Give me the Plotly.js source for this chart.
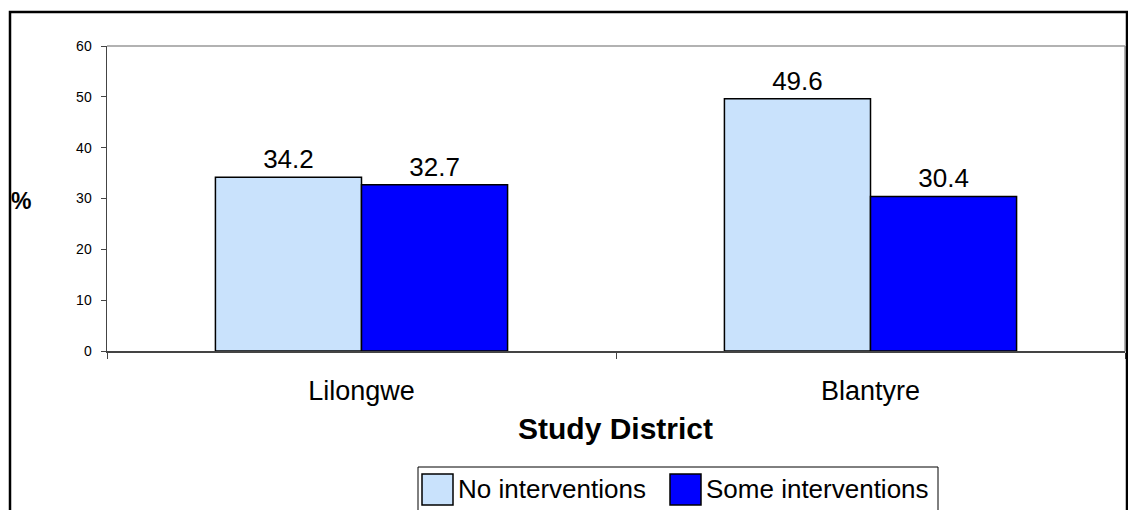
<!DOCTYPE html>
<html>
<head>
<meta charset="utf-8">
<script src="https://cdn.plot.ly/plotly-3.0.1.min.js"></script>
<style>
html,body{margin:0;padding:0;background:#fff;}
#chart{width:1128px;height:510px;}
</style>
</head>
<body>
<div id="chart"></div>
<script>
var districts = ["Lilongwe", "Blantyre"];
var noInterventions = [34.2, 49.6];
var someInterventions = [32.7, 30.4];
var seriesNames = ["No interventions", "Some interventions"];
var seriesColors = ["#C9E2FC", "#0000FF"];
var yTicks = [0, 10, 20, 30, 40, 50, 60];

var font = "Arial, 'Liberation Sans', sans-serif";
function fmt(v){ return v.toFixed(1); }

var seriesValues = [noInterventions, someInterventions];
var traces = seriesValues.map(function(vals, i){
  return {
    type: "bar",
    name: seriesNames[i],
    x: districts,
    y: vals,
    text: vals.map(fmt),
    textposition: "outside",
    textfont: {family: font, size: 26, color: "#000"},
    constraintext: "none",
    cliponaxis: false,
    showlegend: false,
    marker: {color: seriesColors[i], line: {color: "#000", width: 1.5}}
  };
});

// pixel -> paper helpers (plot area: x 107..1125, y 46..351)
var L = 107, W = 1018, B = 351, H = 305;
function px(x){ return (x - L) / W; }
function py(y){ return (B - y) / H; }

var shapes = [
  {type: "line", xref: "paper", yref: "paper", x0: 0, x1: 1, y0: 1, y1: 1, line: {color: "#999", width: 1.5}},
  {type: "line", xref: "paper", yref: "paper", x0: 1, x1: 1, y0: 0, y1: 1, line: {color: "#999", width: 1.5}},
  {type: "rect", xref: "paper", yref: "paper", x0: px(10), x1: px(1127), y0: py(560), y1: py(12), line: {color: "#000", width: 2.5}, fillcolor: "rgba(0,0,0,0)", layer: "above"},
  // legend box
  {type: "rect", xref: "paper", yref: "paper", x0: px(418), x1: px(938), y0: py(540), y1: py(467), line: {color: "#000", width: 1}, fillcolor: "#fff"}
];
var annotations = [
  {text: "<b>%</b>", xref: "paper", yref: "paper", x: px(21), y: py(201), xanchor: "center", yanchor: "middle", showarrow: false, font: {family: font, size: 23, color: "#000"}},
  {text: "<b>Study District</b>", xref: "paper", yref: "paper", x: px(615), y: py(428), xanchor: "center", yanchor: "middle", showarrow: false, font: {family: font, size: 30, color: "#000"}}
];
var legendSwatchX = [422, 670];
seriesNames.forEach(function(name, i){
  var sx = legendSwatchX[i];
  shapes.push({type: "rect", xref: "paper", yref: "paper", x0: px(sx), x1: px(sx + 31), y0: py(505), y1: py(474), line: {color: "#000", width: 1.5}, fillcolor: seriesColors[i]});
  annotations.push({text: name, xref: "paper", yref: "paper", x: px(sx + 34), y: py(489), xanchor: "left", yanchor: "middle", showarrow: false, font: {family: font, size: 26, color: "#000"}});
});

var layout = {
  width: 1128,
  height: 510,
  margin: {l: 107, r: 3, t: 46, b: 159, pad: 0},
  paper_bgcolor: "#fff",
  plot_bgcolor: "#fff",
  font: {family: font, color: "#000"},
  barmode: "group",
  bargap: 0.426,
  bargroupgap: 0,
  showlegend: false,
  xaxis: {
    type: "category",
    showline: true, linecolor: "#444", linewidth: 1.5,
    ticks: "outside", tickson: "boundaries", ticklen: 6, tickcolor: "#444", tickwidth: 1,
    tickfont: {family: font, size: 27, color: "#000"},
    ticklabelstandoff: 15,
    showgrid: false, zeroline: false
  },
  yaxis: {
    range: [0, 60],
    tickvals: yTicks,
    showline: true, linecolor: "#444", linewidth: 1.5,
    ticks: "outside", ticklen: 5, tickcolor: "#444", tickwidth: 1,
    tickfont: {family: font, size: 14, color: "#000"},
    ticklabelstandoff: 6,
    showgrid: false, zeroline: false
  },
  shapes: shapes,
  annotations: annotations
};

Plotly.newPlot("chart", traces, layout, {displayModeBar: false, staticPlot: true});
</script>
</body>
</html>
